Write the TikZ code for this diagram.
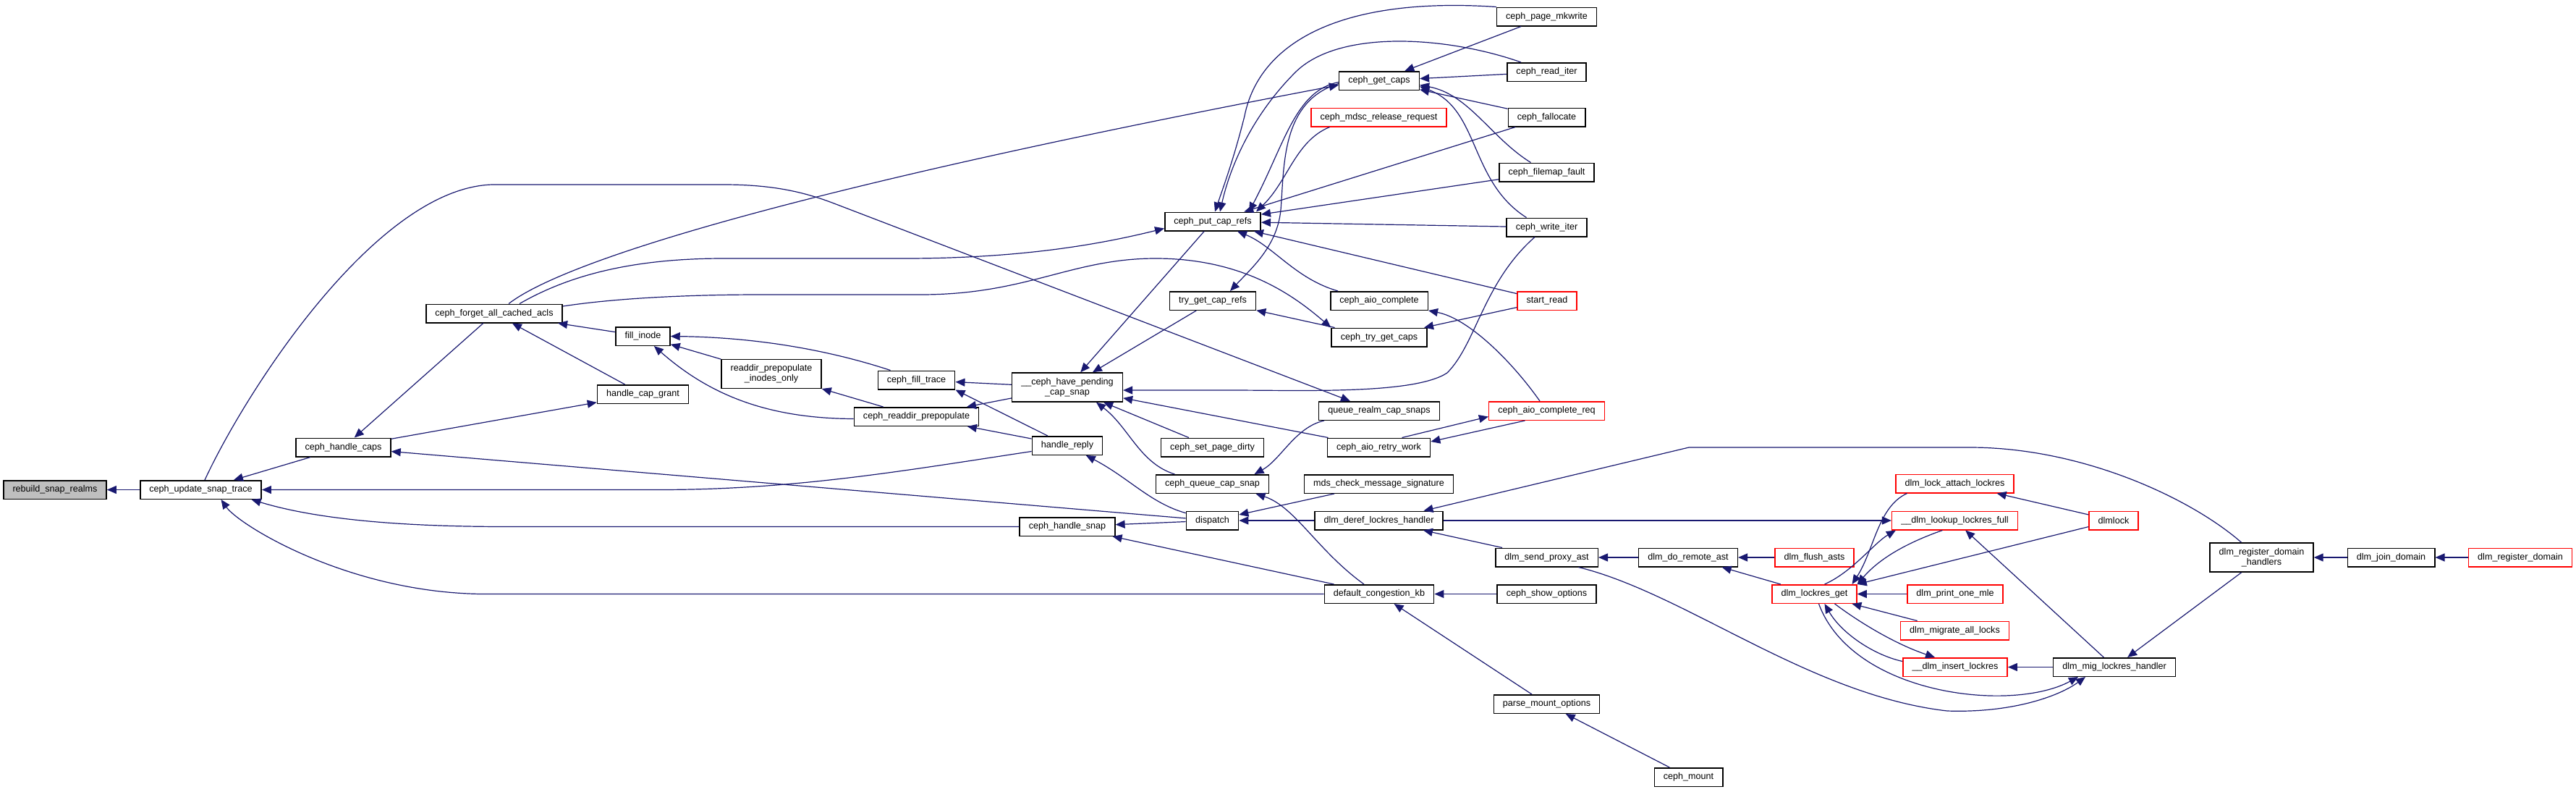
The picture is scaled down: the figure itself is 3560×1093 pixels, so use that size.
\documentclass[tikz,border=0pt]{standalone}
\usepackage{fontspec}
\newfontfamily\dxfont{Liberation Sans}
\newcommand{\graphfont}{\dxfont\fontsize{6.3pt}{7pt}\selectfont}
\usetikzlibrary{arrows.meta}
\definecolor{edgeblue}{HTML}{191970}
\definecolor{rootgray}{HTML}{BFBFBF}
\tikzset{
  fn/.style={draw=black, fill=white, line width=0.75pt, inner xsep=6.3pt, inner ysep=0pt,
    minimum height=12.75pt, font=\graphfont, text=black, align=center},
  fnred/.style={fn, draw=red},
  fnroot/.style={fn, fill=rootgray},
  twoline/.style={minimum height=20pt},
  cedge/.style={draw=edgeblue, line width=0.6pt, -{Triangle[length=6.5pt,width=5.5pt]}}
}
\begin{document}
\begin{tikzpicture}[x=0.5pt,y=-0.5pt]
\useasboundingbox (0,0) rectangle (3560,1093);
% ---------- nodes ----------
\node[fnroot] (rebuild) at (76,676.5) {rebuild\_snap\_realms};
\node[fn] (update) at (277.5,676.5) {ceph\_update\_snap\_trace};
\node[fn] (hcaps) at (474.5,618) {ceph\_handle\_caps};
\node[fn] (forget) at (683,433) {ceph\_forget\_all\_cached\_acls};
\node[fn] (fillinode) at (888.5,464.5) {fill\_inode};
\node[fn,twoline] (rpio) at (1066,516.5) {readdir\_prepopulate\\\_inodes\_only};
\node[fn] (capgrant) at (888.5,544.5) {handle\_cap\_grant};
\node[fn] (filltrace) at (1266.5,525) {ceph\_fill\_trace};
\node[fn] (rdprep) at (1266.5,575.5) {ceph\_readdir\_prepopulate};
\node[fn,twoline] (havepend) at (1475,535) {\_\_ceph\_have\_pending\\\_cap\_snap};
\node[fn] (hreply) at (1475,615.5) {handle\_reply};
\node[fn] (hsnap) at (1475,727.5) {ceph\_handle\_snap};
\node[fn] (putcap) at (1676,306) {ceph\_put\_cap\_refs};
\node[fn] (trygetref) at (1676,415.5) {try\_get\_cap\_refs};
\node[fn] (setdirty) at (1675.5,618) {ceph\_set\_page\_dirty};
\node[fn] (qcapsnap) at (1675.5,668.5) {ceph\_queue\_cap\_snap};
\node[fn] (dispatch) at (1675.5,719) {dispatch};
\node[fn] (getcaps) at (1906,111.5) {ceph\_get\_caps};
\node[fnred] (mdsc) at (1905.5,162) {ceph\_mdsc\_release\_request};
\node[fn] (aiocomp) at (1906,415.5) {ceph\_aio\_complete};
\node[fn] (trygetcaps) at (1906,466) {ceph\_try\_get\_caps};
\node[fn] (qrealm) at (1906,567.5) {queue\_realm\_cap\_snaps};
\node[fn] (aioretry) at (1905.5,618) {ceph\_aio\_retry\_work};
\node[fn] (mdscheck) at (1905.5,668.5) {mds\_check\_message\_signature};
\node[fn] (deref) at (1905.5,719) {dlm\_deref\_lockres\_handler};
\node[fn] (defcong) at (1906,820.5) {default\_congestion\_kb};
\node[fn] (mkwrite) at (2137.5,23) {ceph\_page\_mkwrite};
\node[fn] (readiter) at (2137.5,99.5) {ceph\_read\_iter};
\node[fn] (falloc) at (2137.5,162) {ceph\_fallocate};
\node[fn] (filemap) at (2137.5,238) {ceph\_filemap\_fault};
\node[fn] (writeiter) at (2137.5,314) {ceph\_write\_iter};
\node[fnred] (startread) at (2138,415.5) {start\_read};
\node[fnred] (aioreq) at (2137.5,567.5) {ceph\_aio\_complete\_req};
\node[fn] (sendproxy) at (2137.5,770) {dlm\_send\_proxy\_ast};
\node[fn] (showopt) at (2137.5,820.5) {ceph\_show\_options};
\node[fn] (parse) at (2137.5,972.5) {parse\_mount\_options};
\node[fn] (doremote) at (2333,770) {dlm\_do\_remote\_ast};
\node[fn] (mount) at (2333.5,1073.5) {ceph\_mount};
\node[fnred] (flush) at (2507.5,770) {dlm\_flush\_asts};
\node[fnred] (lrget) at (2507.5,820.5) {dlm\_lockres\_get};
\node[fnred] (attach) at (2701.5,668) {dlm\_lock\_attach\_lockres};
\node[fnred] (lookup) at (2701.5,719) {\_\_dlm\_lookup\_lockres\_full};
\node[fnred] (printmle) at (2702,820.5) {dlm\_print\_one\_mle};
\node[fnred] (migall) at (2701.5,871) {dlm\_migrate\_all\_locks};
\node[fnred] (insert) at (2702,921.5) {\_\_dlm\_insert\_lockres};
\node[fnred] (dlmlock) at (2921,719) {dlmlock};
\node[fn] (mig) at (2922,921.5) {dlm\_mig\_lockres\_handler};
\node[fn,twoline] (handlers) at (3125.5,770) {dlm\_register\_domain\\\_handlers};
\node[fn] (join) at (3304.5,770) {dlm\_join\_domain};
\node[fnred] (register) at (3483,770) {dlm\_register\_domain};
% ---------- edges (tail -> head) ----------
\draw[cedge] (update) -- (rebuild);
\draw[cedge] (hcaps) -- (update);
\draw[cedge] ([xshift=2.75pt]update.north) .. controls (340,540) and (520,260) .. (680,255) -- (1000,255) .. controls (1067,255) and (1110,265) .. (1150,280) -- ([xshift=-20pt]qrealm.north);
\draw[cedge] ([yshift=-4pt]hreply.west) .. controls (1250,650) and (1100,676.5) .. (910,676.5) -- (update.east);
\draw[cedge] (hsnap.west) -- (700,727.5) .. controls (520,727.5) and (420,712) .. ([xshift=35pt]update.south);
\draw[cedge] (defcong.west) -- (665,820.5) .. controls (480,818) and (330,725) .. ([xshift=14pt]update.south);
\draw[cedge] (forget) -- (hcaps);
\draw[cedge] (hcaps) -- (capgrant);
\draw[cedge] ([xshift=10pt]forget.north) .. controls (780,360) and (1100,260) .. ([yshift=-3pt]getcaps.west);
\draw[cedge] ([xshift=17.5pt]forget.north) .. controls (790,378) and (880,357) .. (1000,357) -- (1250,357) .. controls (1420,357) and (1530,335) .. ([yshift=2pt]putcap.south west);
\draw[cedge] ([yshift=5pt]forget.east) .. controls (850,412) and (950,407) .. (1050,407) -- (1272,407) .. controls (1420,407) and (1480,357) .. (1597,357) .. controls (1720,357) and (1790,410) .. (trygetcaps.north west);
\draw[cedge] (fillinode) -- (forget);
\draw[cedge] (capgrant) -- (forget);
\draw[cedge] (rpio) -- (fillinode);
\draw[cedge] ([xshift=-18pt]filltrace.north) .. controls (1150,485) and (1050,466) .. (fillinode.east);
\draw[cedge] ([yshift=-1.5pt]rdprep.west) .. controls (1060,578) and (980,545) .. (fillinode);
\draw[cedge] (rdprep) -- (rpio);
\draw[cedge] (havepend) -- (filltrace);
\draw[cedge] (hreply) -- (filltrace.south east);
\draw[cedge] (havepend) -- (rdprep);
\draw[cedge] (hreply) -- (rdprep);
\draw[cedge] (dispatch) .. controls (1590,695) and (1560,660) .. (hreply);
\draw[cedge] (dispatch) -- (hsnap);
\draw[cedge] (defcong) -- (hsnap);
\draw[cedge] (dispatch) -- (hcaps);
\draw[cedge] (putcap) -- (havepend);
\draw[cedge] (trygetref) -- (havepend);
\draw[cedge] ([xshift=-8.25pt]writeiter.south) .. controls (2050,390) and (2040,475) .. (2000,515) .. controls (1955,545) and (1800,539) .. (1700,539) -- ([yshift=-2pt]havepend.east);
\draw[cedge] (aioretry) -- (havepend);
\draw[cedge] (setdirty) -- (havepend);
\draw[cedge] ([xshift=-26pt]qcapsnap.north) .. controls (1575,640) and (1560,590) .. ([xshift=20pt]havepend.south);
\draw[cedge] ([xshift=-38pt]qrealm.south) .. controls (1790,590) and (1770,635) .. ([xshift=29pt]qcapsnap.north);
\draw[cedge] ([xshift=-10.5pt]defcong.north) .. controls (1820,760) and (1790,700) .. ([xshift=30pt]qcapsnap.south);
\draw[cedge] (mdscheck) -- (dispatch);
\draw[cedge] (deref) -- (dispatch);
\draw[cedge] ([xshift=-14pt]handlers.north) .. controls (3030,690) and (2880,618) .. (2722,618) -- (2334,618) -- ([xshift=31pt]deref.north);
\draw[cedge] (deref) -- (lookup);
\draw[cedge] (sendproxy) -- (deref);
\draw[cedge] (doremote) -- (sendproxy);
\draw[cedge] ([xshift=22pt]sendproxy.south) .. controls (2330,820) and (2500,960) .. (2691,982) .. controls (2780,985) and (2845,962) .. ([xshift=-20pt]mig.south);
\draw[cedge] (showopt) -- (defcong);
\draw[cedge] (parse) -- (defcong);
\draw[cedge] (mount) -- (parse);
\draw[cedge] (flush) -- (doremote);
\draw[cedge] (lrget) -- (doremote);
\draw[cedge] ([xshift=7pt]lrget.north) .. controls (2560,790) and (2590,750) .. ([xshift=3pt]lookup.south west);
\draw[cedge] ([xshift=-33pt]attach.south) .. controls (2595,700) and (2590,760) .. ([xshift=26pt]lrget.north);
\draw[cedge] ([xshift=-8.5pt]lookup.south) .. controls (2620,755) and (2590,780) .. (lrget.north east);
\draw[cedge] (dlmlock) -- (lrget.north east);
\draw[cedge] (printmle) -- (lrget);
\draw[cedge] (migall) -- (lrget);
\draw[cedge] ([xshift=14pt]lrget.south) .. controls (2570,860) and (2620,890) .. ([xshift=-14pt]insert.north);
\draw[cedge] ([yshift=4pt]insert.west) .. controls (2590,905) and (2545,875) .. ([xshift=7pt]lrget.south);
\draw[cedge] ([xshift=3pt]lrget.south) .. controls (2560,960) and (2780,985) .. ([xshift=-25pt]mig.south);
\draw[cedge] (mig) -- (insert);
\draw[cedge] (mig) -- (lookup);
\draw[cedge] (dlmlock) -- (attach);
\draw[cedge] (handlers) -- (mig);
\draw[cedge] (join) -- (handlers);
\draw[cedge] (register) -- (join);
\draw[cedge] (mkwrite.north west) .. controls (1850,-5) and (1740,60) .. (1720,160) .. controls (1705,220) and (1690,260) .. ([xshift=1.5pt]putcap.north);
\draw[cedge] ([xshift=-17.75pt]readiter.north) .. controls (2000,50) and (1850,40) .. (1790,100) .. controls (1730,160) and (1700,230) .. ([xshift=5pt]putcap.north);
\draw[cedge] (mkwrite) -- (getcaps);
\draw[cedge] (readiter) -- (getcaps);
\draw[cedge] (falloc) -- (getcaps);
\draw[cedge] ([xshift=-11pt]filemap.north) .. controls (2060,190) and (2030,130) .. ([yshift=-3pt]getcaps.east);
\draw[cedge] ([xshift=-14pt]writeiter.north) .. controls (2030,250) and (2045,150) .. ([yshift=-4pt]getcaps.east);
\draw[cedge] (falloc) -- (putcap);
\draw[cedge] (filemap) -- (putcap);
\draw[cedge] (writeiter) -- (putcap);
\draw[cedge] (startread) -- (putcap);
\draw[cedge] ([xshift=-28.5pt]aiocomp.north) .. controls (1790,385) and (1760,340) .. ([xshift=17pt]putcap.south);
\draw[cedge] ([yshift=-1pt]getcaps.west) .. controls (1790,125) and (1775,200) .. ([xshift=25pt]putcap.north);
\draw[cedge] ([xshift=-34pt]mdsc.south) .. controls (1790,195) and (1780,250) .. ([xshift=30pt]putcap.north);
\draw[cedge] ([yshift=-2pt]getcaps.west) .. controls (1770,140) and (1775,230) .. (1770,290) .. controls (1765,340) and (1730,370) .. ([xshift=12pt]trygetref.north);
\draw[cedge] (trygetcaps) -- (trygetref);
\draw[cedge] (startread) -- (trygetcaps);
\draw[cedge] ([xshift=-4.75pt]aioreq.north) .. controls (2090,500) and (2030,440) .. (aiocomp.south east);
\draw[cedge] ([xshift=16pt]aioretry.north) -- ([yshift=-4pt]aioreq.west);
\draw[cedge] ([xshift=-15pt]aioreq.south) -- ([yshift=4pt]aioretry.east);
\end{tikzpicture}
\end{document}
